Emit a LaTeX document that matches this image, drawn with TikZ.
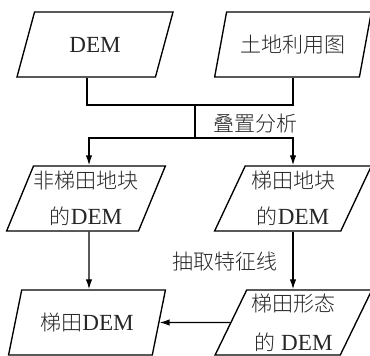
\documentclass[tikz,border=0pt]{standalone}
\usepackage{fontspec}
\setmainfont[Scale=1.1]{Liberation Serif}
\newfontfamily\cjk{Noto Sans CJK SC Light}
\newcommand\zh[1]{{\cjk #1}}
\usetikzlibrary{shapes.geometric,arrows.meta}
\begin{document}
\begin{tikzpicture}[x=1pt,y=-1pt,
  io/.style={draw, line width=1.35pt, trapezium, trapezium left angle=63.8,
    trapezium right angle=116.2, trapezium stretches=true,
    minimum width=157pt, minimum height=65pt, inner sep=0pt, align=center,
    text=black!85, font=\fontsize{21}{36}\selectfont},
  lbl/.style={text=black!85, font=\fontsize{21}{25}\selectfont, inner sep=0pt},
  conn/.style={line width=1.35pt},
  arr/.style={conn, -{Latex[length=10pt,width=6.5pt]}}]
\useasboundingbox (0,0) rectangle (370,356);
\node[io] (dem) at (95,44.5) {DEM};
\node[io] (land) at (293,44.5) {\zh{土地利用图}};
\node[io] (nt) at (86,198.5) {\zh{非梯田地块}\\\zh{的}DEM};
\node[io] (t) at (293,198.5) {\zh{梯田地块}\\\zh{的}DEM};
\node[io] (tdem) at (87,322.5) {\zh{梯田}DEM};
\node[io] (tform) at (293.5,322.5) {\zh{梯田形态}\\[3pt]\zh{的} DEM};
\coordinate (j1) at (195,105);
\coordinate (j2) at (195,138);
\node[lbl] (l1) at (255.5,123.5) {\zh{叠置分析}};
\node[lbl] (l2) at (225,262) {\zh{抽取特征线}};
\draw[conn] ([xshift=-8pt]dem.south) |- (j1) -| (land.south);
\draw[conn] (j1) -- (j2);
\draw[arr] (j2) -| ([xshift=3pt]nt.north);
\draw[arr] (j2) -| (t.north);
\draw[arr] ([xshift=3pt]nt.south) -- ([xshift=2pt]tdem.north);
\draw[arr] (t.south) -- (t.south |- tform.north);
\draw[arr] (tform.west) -- (tdem.east);
\end{tikzpicture}
\end{document}
